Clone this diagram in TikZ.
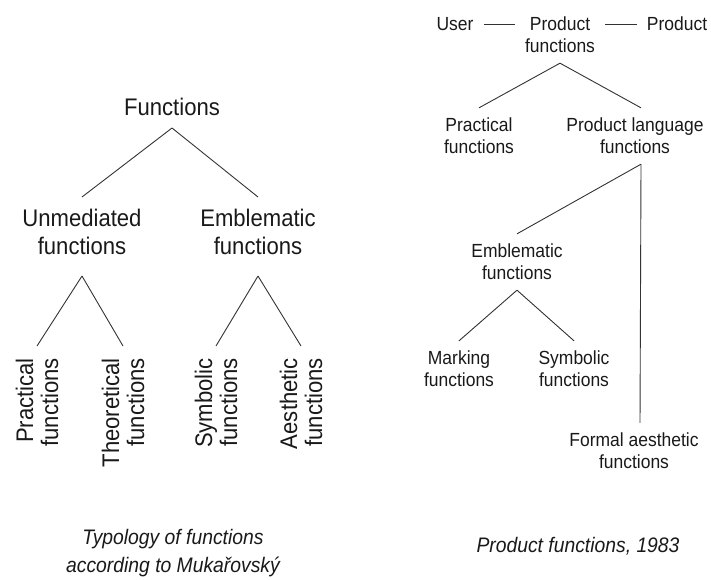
\documentclass[tikz,border=0pt]{standalone}
\usepackage{fontspec}
\setmainfont[FakeStretch=0.92]{Liberation Sans}
\usepackage{tikz}
\usetikzlibrary{positioning}
\tikzstyle{line} = [draw, line width=0.9pt, black!80]
\tikzstyle{caption} = [align=center, font=\fontsize{21}{28}\selectfont\itshape]

\begin{document}
\begin{tikzpicture}[x=1pt, y=-1pt, text=black!90,
	lname/.style={align=center, inner sep=12pt, font=\fontsize{24}{28}\selectfont},
	vname/.style={lname, rotate=90, anchor=east, align=right, font=\fontsize{24}{25}\selectfont},
	rname/.style={align=center, inner sep=10pt, font=\fontsize{19}{22}\selectfont}]
	\useasboundingbox (0,0) rectangle (711,579);
	% Typology after Mukarovsky
	\node [lname] at (172,107) (Fn) {Functions};
	\node [lname] at (82,232) (Um) {Unmediated\\functions};
	\node [lname] at (258,232) (Em) {Emblematic\\functions};
	\node [vname] at (37,346) (Pr) {Practical\\functions};
	\node [vname] at (123,346) (Th) {Theoretical\\functions};
	\node [vname] at (216,346) (Sb) {Symbolic\\functions};
	\node [vname] at (301,346) (Ae) {Aesthetic\\functions};
	\node [caption] at (173,553) (capL) {Typology of functions\\according to Mukařovský};
	% Product functions
	\node [rname] at (455,24) (User) {User};
	\node [rname] at (560,35) (PF) {Product\\functions};
	\node [rname] at (677,24) (Prod) {Product};
	\node [rname] at (479,136) (Prac) {Practical\\functions};
	\node [rname] at (635,136) (PL) {Product language\\functions};
	\node [rname] at (517,262) (Emb) {Emblematic\\functions};
	\node [rname] at (459,369) (Mk) {Marking\\functions};
	\node [rname] at (574,369) (Sy) {Symbolic\\functions};
	\node [rname] at (634,451) (FA) {Formal aesthetic\\functions};
	\node [caption] at (578,546) (capR) {Product functions, 1983};
	%% Lines
	% left tree
	\path [line] (Fn.south) to (Um.north);
	\path [line] (Fn.south) to (Em.north);
	\path [line] ([yshift=-9pt]Um.south) to (Pr.east);
	\path [line] ([yshift=-9pt]Um.south) to (Th.east);
	\path [line] ([yshift=-9pt]Em.south) to (Sb.east);
	\path [line] ([yshift=-9pt]Em.south) to (Ae.east);
	% right tree
	\path [line] (User.east) to (User.east -| PF.west);
	\path [line] (PF.east |- Prod.west) to (Prod.west);
	\path [line] (PF.south) to (Prac.north);
	\path [line] (PF.south) to ([xshift=6pt]PL.north);
	\path [line] ([xshift=6pt]PL.south) to (Emb.north);
	\path [line] ([xshift=6pt]PL.south) to ([xshift=6pt]FA.north);
	\path [line] (Emb.south) to (Mk.north);
	\path [line] (Emb.south) to (Sy.north);
\end{tikzpicture}
\end{document}
